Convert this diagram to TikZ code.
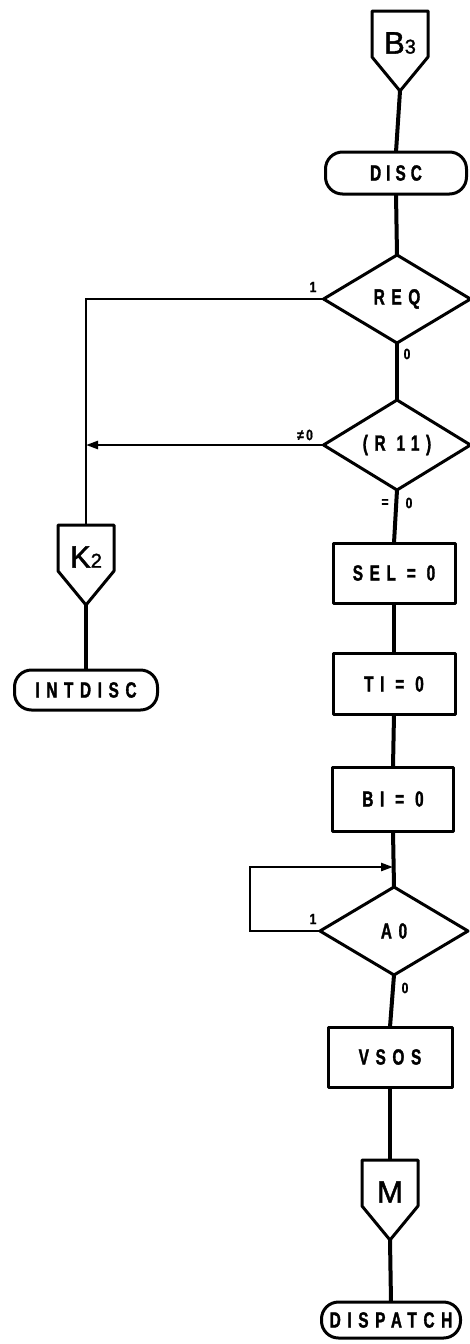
\documentclass[tikz,border=0pt]{standalone}
\usepackage{fontspec}
\setmainfont{Liberation Sans}
\newfontfamily\condf{Liberation Sans Bold}[FakeStretch=0.7, LetterSpace=30, FakeBold=1.4]
\newfontfamily\lblf{Liberation Sans Bold}[FakeStretch=0.8, FakeBold=1]
\newfontfamily\offf{Liberation Sans}[FakeBold=1.5]
\usetikzlibrary{shapes.geometric, arrows.meta, calc}

\newcommand\offpg[3]{%
  \node[offtxt] (#1) at (#2) {#3};
  \coordinate (#1-top) at ($(#1)+(0,-32)$);
  \draw[shp] ($(#1)+(-28,-32)$) -- ($(#1)+(28,-32)$) -- ($(#1)+(28,14)$)
     -- ($(#1)+(0,48)$) coordinate (#1-tip) -- ($(#1)+(-28,14)$) -- cycle;}

\begin{document}
\begin{tikzpicture}[x=1pt,y=-1pt,
  every node/.style={inner sep=0pt, outer sep=0pt},
  conn/.style={line width=4pt},
  branch/.style={line width=2.5pt},
  shp/.style={draw, line width=3pt, line join=round},
  txt/.style={font=\condf\fontsize{22}{22}\selectfont},
  procbox/.style={shp, rectangle, txt},
  term/.style={shp, rectangle, rounded corners=17pt, txt},
  dec/.style={shp, diamond, txt},
  offtxt/.style={font=\offf\fontsize{31}{31}\selectfont},
  lbl/.style={font=\lblf\fontsize{15}{15}\selectfont},
  tip/.style={-{Triangle[length=12pt,width=8pt]}}
]
\useasboundingbox (0,0) rectangle (470,1344);

% main column
\offpg{b3}{400,43}{B{\fontsize{20}{20}\selectfont 3}}
\node[term, minimum width=141pt, minimum height=42pt] (disc) at (396,173) {D\hspace{5pt}I\hspace{5pt}S\hspace{5pt}C};
\node[dec, minimum width=147pt, minimum height=88pt] (req) at (397,299) {REQ};
\node[dec, minimum width=147pt, minimum height=90pt] (r11) at (397,445) {(R 11)};
\node[procbox, minimum width=122pt, minimum height=60pt] (sel) at (394,573) {SEL = 0};
\node[procbox, minimum width=122pt, minimum height=61pt] (ti) at (394,684) {TI = 0};
\node[procbox, minimum width=121pt, minimum height=64pt] (bi) at (393,799) {BI = 0};
\node[dec, minimum width=148pt, minimum height=88pt] (ao) at (394,931) {A0};
\node[procbox, minimum width=124pt, minimum height=60pt] (vsos) at (390,1057) {VSOS};
\offpg{m}{390,1192}{M}
\node[term, minimum width=139pt, minimum height=36pt] (disp) at (391,1320) {DISPATCH};

% left column
\offpg{k2}{86,557}{K{\fontsize{20}{20}\selectfont 2}}
\node[term, minimum width=143pt, minimum height=40pt] (intdisc) at (86,690) {INTDISC};

% main connectors
\draw[conn] (b3-tip) -- (disc.north);
\draw[conn] (disc.south) -- (req.north);
\draw[conn] (req.south) -- (r11.north);
\draw[conn] (r11.south) -- (sel.north);
\draw[conn] (sel.south) -- (ti.north);
\draw[conn] (ti.south) -- (bi.north);
\draw[conn] (bi.south) -- (ao.north);
\draw[conn] (ao.south) -- (vsos.north);
\draw[conn] (vsos.south) -- (m-top);
\draw[conn] (m-tip) -- (disp.north);
\draw[conn] (k2-tip) -- (intdisc.north);

% branches
\draw[branch] (req.west) -| (k2-top);
\draw[branch, tip] (r11.west) -- (r11.west -| k2-top);
\coordinate (aoleft) at (250,931);
\coordinate (aoin) at (393,867);
\draw[branch, tip] (ao.west) -- (aoleft) |- (aoin);

% labels
\node[lbl] (l1) at (313,287) {1};
\node[lbl] (l2) at (407,354) {0};
\node[lbl] (l3) at (305,435) {≠\,0};
\node[lbl] (l4) at (385,503) {=};
\node[lbl] (l5) at (409,503) {0};
\node[lbl] (l6) at (313,919) {1};
\node[lbl] (l7) at (405,988) {0};
\end{tikzpicture}
\end{document}
